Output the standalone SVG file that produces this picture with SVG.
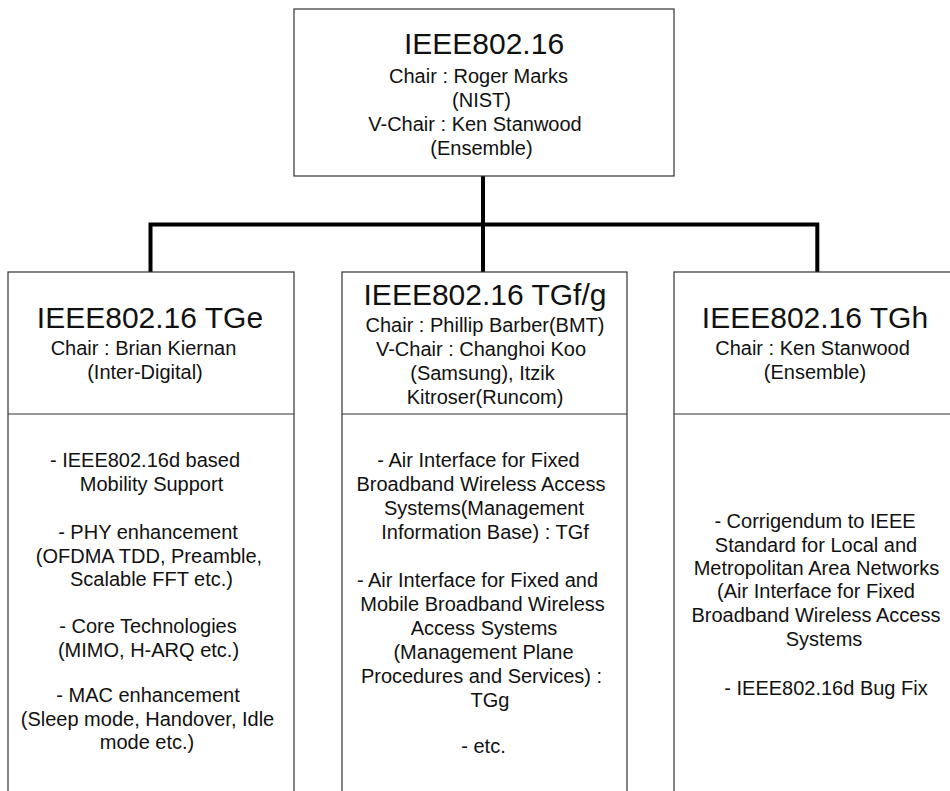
<svg xmlns="http://www.w3.org/2000/svg" width="950" height="791" viewBox="0 0 950 791">
  <style>
    .box { fill: #ffffff; stroke: #333333; stroke-width: 1.2; }
    .div { stroke: #333333; stroke-width: 1.2; }
    .wire { fill: none; stroke: #000000; stroke-width: 4; stroke-linecap: butt; stroke-linejoin: miter; }
    text { font-family: "Liberation Sans", Arial, sans-serif; fill: #111111; text-anchor: middle; }
    .title { font-size: 30px; }
    .body { font-size: 20px; }
  </style>

  <rect x="0" y="0" width="950" height="791" fill="#ffffff"/>

  <!-- tree connectors -->
  <g id="connectors">
    <path class="wire" d="M483,176 V224.5"/>
    <path class="wire" d="M150.5,274 V224.5 H817.3 V274"/>
    <path class="wire" d="M483,224.5 V274"/>
  </g>

  <!-- root working group -->
  <g id="ieee80216">
    <rect class="box" x="294" y="9" width="380" height="167"/>
    <text class="title" x="484" y="54">IEEE802.16</text>
    <text class="body" x="478.5" y="83">Chair : Roger Marks</text>
    <text class="body" x="481.5" y="107">(NIST)</text>
    <text class="body" x="475" y="131">V-Chair : Ken Stanwood</text>
    <text class="body" x="481.5" y="155">(Ensemble)</text>
  </g>

  <!-- task group e -->
  <g id="tge">
    <rect class="box" x="8" y="272" width="286" height="540"/>
    <line class="div" x1="8" y1="414" x2="294" y2="414"/>
    <text class="title" x="150" y="328">IEEE802.16 TGe</text>
    <text class="body" x="143.5" y="355">Chair : Brian Kiernan</text>
    <text class="body" x="145" y="379">(Inter-Digital)</text>
    <text class="body" x="145" y="467">- IEEE802.16d based</text>
    <text class="body" x="151.5" y="491">Mobility Support</text>
    <text class="body" x="148" y="539">- PHY enhancement</text>
    <text class="body" x="149" y="563">(OFDMA TDD, Preamble,</text>
    <text class="body" x="151.5" y="586">Scalable FFT etc.)</text>
    <text class="body" x="148" y="633">- Core Technologies</text>
    <text class="body" x="148.5" y="657">(MIMO, H-ARQ etc.)</text>
    <text class="body" x="148" y="702">- MAC enhancement</text>
    <text class="body" x="147.5" y="726">(Sleep mode, Handover, Idle</text>
    <text class="body" x="147" y="749">mode etc.)</text>
  </g>

  <!-- task groups f and g -->
  <g id="tgfg">
    <rect class="box" x="342" y="272" width="285" height="540"/>
    <line class="div" x1="342" y1="414" x2="627" y2="414"/>
    <text class="title" x="485" y="305">IEEE802.16 TGf/g</text>
    <text class="body" x="485" y="332">Chair : Phillip Barber(BMT)</text>
    <text class="body" x="481" y="356">V-Chair : Changhoi Koo</text>
    <text class="body" x="482.5" y="380">(Samsung), Itzik</text>
    <text class="body" x="485" y="404">Kitroser(Runcom)</text>
    <text class="body" x="478.5" y="467">- Air Interface for Fixed</text>
    <text class="body" x="481" y="491">Broadband Wireless Access</text>
    <text class="body" x="484" y="515">Systems(Management</text>
    <text class="body" x="485" y="539">Information Base) : TGf</text>
    <text class="body" x="477.5" y="587">- Air Interface for Fixed and</text>
    <text class="body" x="482.5" y="611">Mobile Broadband Wireless</text>
    <text class="body" x="484" y="635">Access Systems</text>
    <text class="body" x="483.5" y="659">(Management Plane</text>
    <text class="body" x="481.5" y="683">Procedures and Services) :</text>
    <text class="body" x="490" y="707">TGg</text>
    <text class="body" x="483.5" y="753">- etc.</text>
  </g>

  <!-- task group h -->
  <g id="tgh">
    <rect class="box" x="674" y="272" width="300" height="540"/>
    <line class="div" x1="674" y1="414" x2="974" y2="414"/>
    <text class="title" x="815" y="328">IEEE802.16 TGh</text>
    <text class="body" x="812.5" y="355">Chair : Ken Stanwood</text>
    <text class="body" x="815" y="379">(Ensemble)</text>
    <text class="body" x="815" y="528">- Corrigendum to IEEE</text>
    <text class="body" x="816" y="552">Standard for Local and</text>
    <text class="body" x="816.5" y="575">Metropolitan Area Networks</text>
    <text class="body" x="816" y="598">(Air Interface for Fixed</text>
    <text class="body" x="816" y="622">Broadband Wireless Access</text>
    <text class="body" x="824" y="646">Systems</text>
    <text class="body" x="826" y="695">- IEEE802.16d Bug Fix</text>
  </g>
</svg>
